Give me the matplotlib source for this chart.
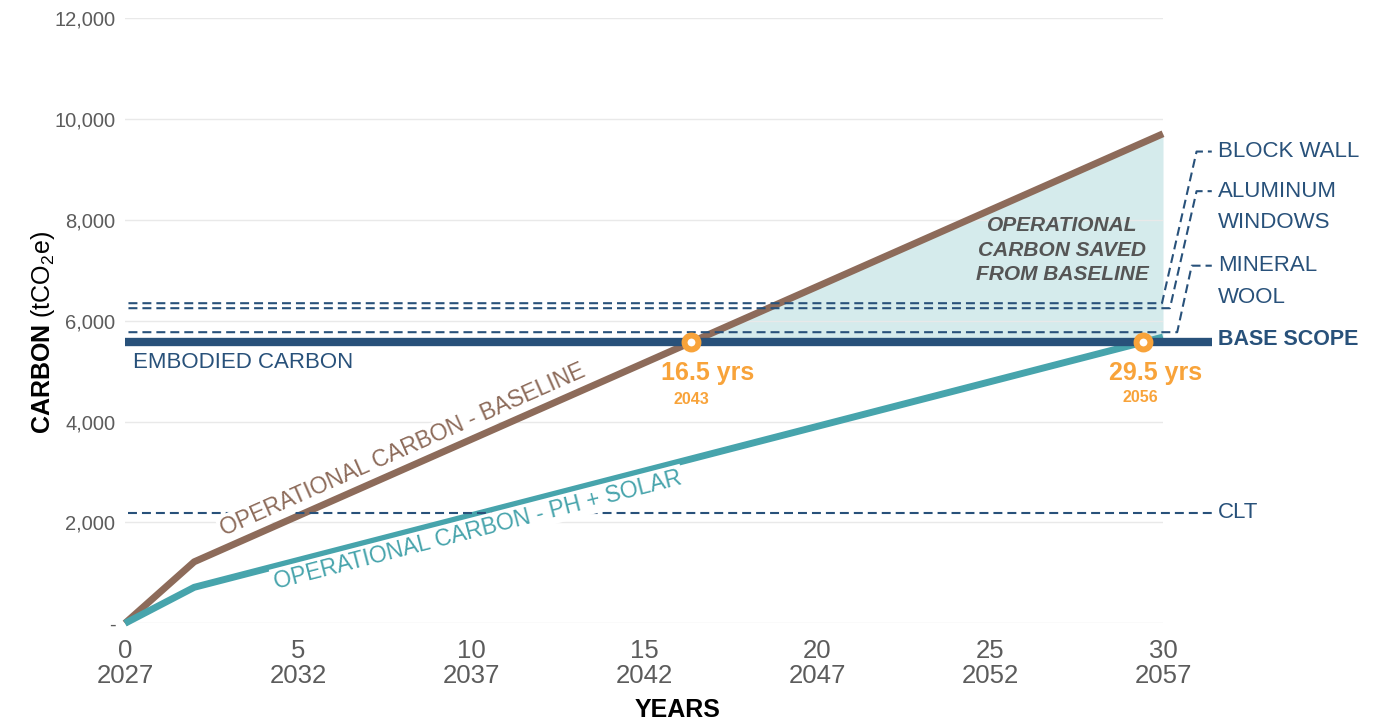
import numpy as np
import matplotlib
import matplotlib.pyplot as plt

matplotlib.use('Agg')

plt.rcParams['font.family'] = ['Liberation Sans', 'DejaVu Sans']
plt.rcParams['mathtext.fontset'] = 'custom'
plt.rcParams['mathtext.rm'] = 'Liberation Sans'
plt.rcParams['mathtext.bf'] = 'Liberation Sans:bold'

# =========================================================
# DATA
# =========================================================
base_year = 2027
years = [0, 2, 30]
baseline = [0, 1220, 9710]          # operational carbon - baseline
ph_solar = [0, 714, 5677]           # operational carbon - PH + solar
embodied = 5575                     # embodied carbon, base scope

scope_names = ["BLOCK WALL", "ALUMINUM\nWINDOWS", "MINERAL\nWOOL", "CLT"]
scope_levels = [6349, 6250, 5774, 2190]

payback_labels = ["16.5 yrs", "29.5 yrs"]
payback_years = ["2043", "2056"]

y_ticks = [0, 2000, 4000, 6000, 8000, 10000, 12000]
x_ticks = [0, 5, 10, 15, 20, 25, 30]

# colours
C_BROWN = '#8d6b5a'
C_TEAL = '#47a4ac'
C_BLUE = '#28517a'
C_FILL = '#d5ebec'
C_ORANGE = '#f8a33a'
C_TICK = '#5c5c5c'

# =========================================================
# FIGURE
# =========================================================
fig = plt.figure(figsize=(13.88, 7.2), dpi=100)
ax = fig.add_axes([125/1388, 96.7/720, 1038/1388, 605/720])
ax.set_xlim(0, 30)
ax.set_ylim(0, 12000)
for s in ax.spines.values():
    s.set_visible(False)

# grid
for yv in y_ticks:
    ax.plot([0, 30], [yv, yv], color='#e9e9e9', lw=1, zorder=1.5)

# operational carbon saved (shaded)
yrs = np.array(years, dtype=float)
b = np.array(baseline, dtype=float)
ax.fill_between(yrs, b, embodied, where=b >= embodied, interpolate=True,
                color=C_FILL, lw=0, zorder=1)

# operational lines
ax.plot(years, baseline, color=C_BROWN, lw=5, solid_capstyle='butt',
        solid_joinstyle='round', zorder=3, clip_on=False)
ax.plot(years, ph_solar, color=C_TEAL, lw=5, solid_capstyle='butt',
        solid_joinstyle='round', zorder=3, clip_on=False)

# embodied carbon (base scope)
x_end = 31.41
ax.plot([0, x_end], [embodied, embodied], color=C_BLUE, lw=6,
        solid_capstyle='butt', zorder=3.5, clip_on=False)

# alternative scopes with leader lines to the labels on the right
dash = (0, (4.3, 2.4))
label_x = 31.6
leader = [  # x turn, x top, label y
    (29.97, 30.97, 9357),
    (30.20, 30.97, 8571),
    (30.41, 30.83, 7093),
    (None, None, 2190),
]
line_gap = 630
for name, lvl, (xt, xtop, ly) in zip(scope_names, scope_levels, leader):
    if xt is None:
        xs, ys = [0.1, x_end], [lvl, lvl]
    else:
        xs, ys = [0.1, xt, xtop, x_end], [lvl, lvl, ly, ly]
    ax.plot(xs, ys, color=C_BLUE, lw=1.5, linestyle=dash, zorder=4, clip_on=False)
    for i, part in enumerate(name.split("\n")):
        ax.text(label_x, ly - i * line_gap, part, color=C_BLUE, fontsize=16,
                ha='left', va='center', zorder=6)

ax.text(label_x, embodied + 60, "BASE SCOPE", color=C_BLUE, fontsize=15.5,
        fontweight='bold', ha='left', va='center')

ax.text(0.23, 5170, "EMBODIED CARBON", color=C_BLUE, fontsize=16,
        ha='left', va='center', zorder=6)

# labels along the operational lines
def screen_angle(x0, y0, x1, y1):
    p0 = ax.transData.transform((x0, y0))
    p1 = ax.transData.transform((x1, y1))
    return np.degrees(np.arctan2(p1[1] - p0[1], p1[0] - p0[0]))

ang_b = screen_angle(years[1], baseline[1], years[2], baseline[2])
ang_s = screen_angle(years[1], ph_solar[1], years[2], ph_solar[2])
box = dict(facecolor='white', edgecolor='none', pad=1.5)
ax.text(8.03, 3440, "OPERATIONAL CARBON - BASELINE", color=C_BROWN, fontsize=16.5,
        rotation=ang_b, rotation_mode='anchor', ha='center', va='center',
        bbox=box, zorder=5)
ax.text(10.19, 1851, "OPERATIONAL CARBON - PH + SOLAR", color=C_TEAL, fontsize=16.5,
        rotation=ang_s, rotation_mode='anchor', ha='center', va='center',
        bbox=box, zorder=5)

ax.text(27.08, 7400, "OPERATIONAL\nCARBON SAVED\nFROM BASELINE", color='#555555',
        fontsize=15, fontweight='bold', fontstyle='italic', ha='center',
        va='center', linespacing=1.35, zorder=5)

# payback points: where each operational line crosses embodied carbon
def crossing(vals):
    v = np.array(vals, dtype=float)
    i = np.argmax(v >= embodied) - 1
    if v[-1] < embodied:
        i = len(v) - 2
    return yrs[i] + (embodied - v[i]) * (yrs[i + 1] - yrs[i]) / (v[i + 1] - v[i])

offsets = [((12, -22), (0, -41)), ((9, -22), (-2, -40))]
for series, lab, yr, (o1, o2) in zip([baseline, ph_solar], payback_labels,
                                     payback_years, offsets):
    xc = crossing(series)
    ax.plot([xc], [embodied], marker='o', ms=10, mfc='white', mec=C_ORANGE,
            mew=4.3, zorder=7, clip_on=False)
    ax.annotate(lab, (xc, embodied), xytext=o1, textcoords='offset points',
                ha='center', va='center', color=C_ORANGE, fontsize=18,
                fontweight='bold', zorder=7)
    ax.annotate(yr, (xc, embodied), xytext=o2, textcoords='offset points',
                ha='center', va='center', color=C_ORANGE, fontsize=11.5,
                fontweight='bold', zorder=7)

# ticks
ax.set_yticks(y_ticks)
ax.set_yticklabels(["-" if v == 0 else f"{v:,}" for v in y_ticks],
                   fontsize=14.5, color=C_TICK)
ax.set_xticks(x_ticks)
ax.set_xticklabels([f"{v}\n{base_year + v}" for v in x_ticks],
                   fontsize=18.5, color=C_TICK, linespacing=1.05)
ax.tick_params(axis='both', length=0)
ax.tick_params(axis='y', pad=7)
ax.tick_params(axis='x', pad=11)

fig.text(677.5/1388, 1 - 710/720, "YEARS", fontsize=18, fontweight='bold',
         ha='center', va='center', color='black')
fig.text(43/1388, 1 - 333/720, r"$\mathbf{CARBON}$ (tCO$_2$e)", fontsize=18,
         rotation=90, ha='center', va='center', color='black')

fig.savefig('out.png', dpi=100)
plt.close(fig)
